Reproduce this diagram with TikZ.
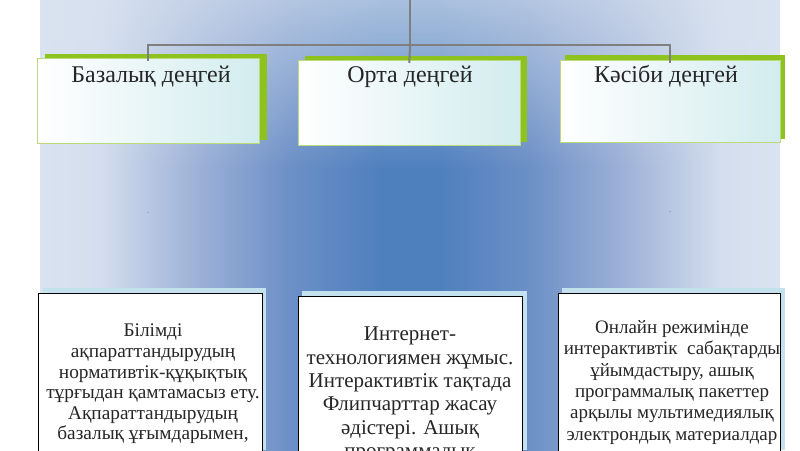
\documentclass[tikz,border=0pt]{standalone}
\usepackage{fontspec}
\setmainfont{Liberation Serif}
\usetikzlibrary{fadings}
\definecolor{bgedge}{HTML}{DAE3F0}
\definecolor{bgmid}{HTML}{9AAFD6}
\definecolor{bgdeep}{HTML}{6B8FC6}
\definecolor{bgcenter}{HTML}{4F80BE}
\definecolor{lime}{HTML}{8DC21F}
\definecolor{tint}{HTML}{D2ECEE}
\definecolor{shadowcyan}{HTML}{C3E2EE}
\definecolor{linegray}{HTML}{7F7F7F}
\pgfdeclarehorizontalshading{bgshade}{100bp}{color(0bp)=(bgedge); color(25bp)=(bgedge); color(29bp)=(bgedge!90!bgmid); color(36bp)=(bgmid); color(42bp)=(bgdeep); color(48bp)=(bgcenter); color(52bp)=(bgcenter); color(58bp)=(bgdeep); color(64bp)=(bgmid); color(71bp)=(bgedge!90!bgmid); color(75bp)=(bgedge); color(100bp)=(bgedge)}
\tikzfading[name=topfade, top color=transparent!35, bottom color=transparent!100]
\tikzset{
  topbox/.style={draw=lime!60, line width=0.6pt, left color=white, right color=tint, minimum width=222pt, minimum height=85pt, inner sep=0pt},
  greenback/.style={fill=lime},
  botbox/.style={draw=black, line width=0.8pt, fill=white, inner sep=0pt},
  cyanback/.style={fill=shadowcyan},
  conn/.style={draw=linegray, line width=2pt},
  headtext/.style={font=\fontsize{24}{26}\selectfont, text=black!85, anchor=base},
  bodytext/.style={align=center, text=black!85, anchor=north, inner sep=0pt},
  dashmark/.style={font=\fontsize{6}{6}\selectfont, text=gray}
}
\begin{document}
\begin{tikzpicture}[x=1pt, y=-1pt]
\useasboundingbox (0,0) rectangle (800,450);
\clip (0,0) rectangle (800,450);
\fill[white] (0,0) rectangle (800,450);
% background panel
\shade[shading=bgshade] (40,0) rectangle (780,450);
\fill[bgedge, path fading=topfade] (40,0) rectangle (780,170);
% top boxes
\fill[greenback] (45,54) rectangle (267,140);
\node[topbox, anchor=north west] (t1) at (37,58) {};
\fill[greenback] (305,56) rectangle (527,142);
\node[topbox, anchor=north west] (t2) at (298,60) {};
\fill[greenback] (565,55) rectangle (785,139);
\node[topbox, anchor=north west, minimum width=220pt, minimum height=82pt] (t3) at (560,60) {};
\node[headtext] (h1) at (151,82) {Базалық деңгей};
\node[headtext] (h2) at (410,82) {Орта деңгей};
\node[headtext] (h3) at (666,82) {Кәсіби деңгей};
% connectors
\coordinate (root) at (410,0);
\coordinate (hub) at (410,45);
\draw[conn] (root) -- (hub);
\draw[conn] (hub) -| ([yshift=-3pt]t1.north);
\draw[conn] (hub) -| ([yshift=-3pt]t3.north);
\draw[conn] (hub) -- ([yshift=-3pt]t2.north);
% dashes
\node[dashmark] (d1) at (148,214) {-};
\node[dashmark] (d2) at (670,213) {-};
% bottom boxes
\fill[cyanback] (43,288) rectangle (266,450);
\node[botbox, anchor=north west, minimum width=224pt, minimum height=170pt] (b1) at (38,293) {};
\fill[cyanback] (302,291) rectangle (527,450);
\node[botbox, anchor=north west, minimum width=224pt, minimum height=170pt] (b2) at (298,296) {};
\fill[cyanback] (562,288) rectangle (785,450);
\node[botbox, anchor=north west, minimum width=222pt, minimum height=170pt] (b3) at (558,293) {};
\node[bodytext, font=\fontsize{19.3}{20.6}\selectfont] (x1) at (153,324) {Білімді\\ақпараттандырудың\\нормативтік-құқықтық\\тұрғыдан қамтамасыз ету.\\Ақпараттандырудың\\базалық ұғымдарымен,};
\node[bodytext, font=\fontsize{21}{23.3}\selectfont] (x2) at (410,327) {Интернет-\\технологиямен жұмыс.\\Интерактивтік тақтада\\Флипчарттар жасау\\әдістері. Ашық\\программалық};
\node[bodytext, font=\fontsize{19}{21.4}\selectfont] (x3) at (672,320) {Онлайн режимінде\\интерактивтік\ \ сабақтарды\\ұйымдастыру, ашық\\программалық пакеттер\\арқылы мультимедиялық\\электрондық материалдар};
\end{tikzpicture}
\end{document}
